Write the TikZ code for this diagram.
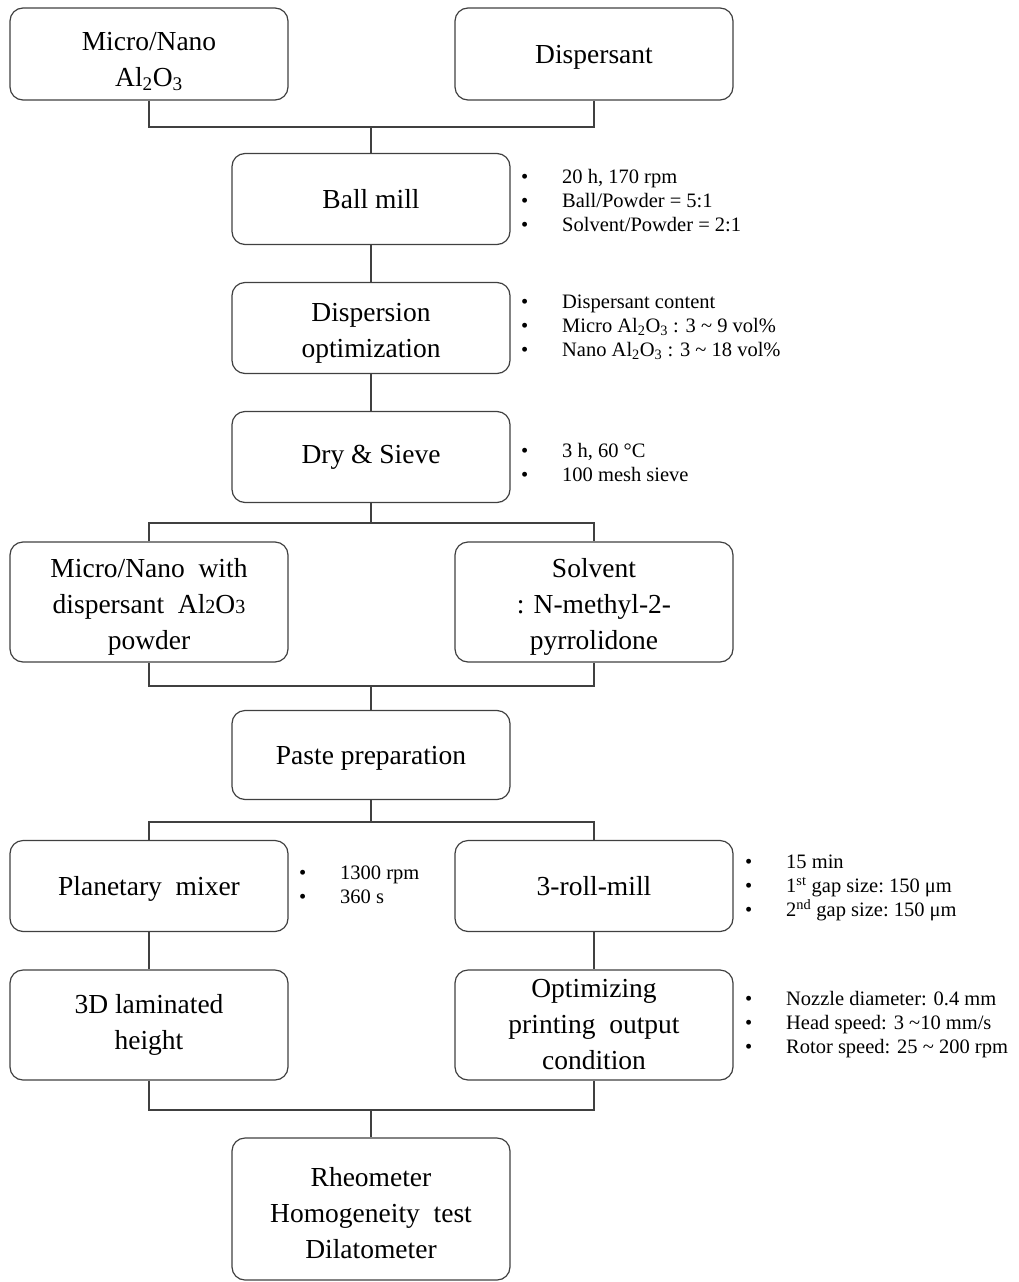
\documentclass[tikz,border=0pt]{standalone}
\usepackage{fontspec}
\setmainfont{Liberation Serif}
\usetikzlibrary{calc}

\newcommand{\bl}{\makebox[41pt][l]{\textbullet}}
\newcommand{\subdig}[1]{{\fontsize{20}{20}\selectfont #1}}
\newcommand{\tallrow}[1][29pt]{\rule{0pt}{#1}}

\begin{document}
\begin{tikzpicture}[x=1pt,y=-1pt,
    stage/.style={draw=black!75,line width=1.2pt,rounded corners=13pt,
        minimum width=278pt,align=center,inner sep=0pt,
        font=\fontsize{27.5}{36}\selectfont},
    note/.style={anchor=west,align=left,inner sep=0pt,
        font=\fontsize{20.5}{24}\selectfont},
    link/.style={draw=black!75,line width=1.4pt}]
    \useasboundingbox (0,0) rectangle (1018,1282);
    % boxes
    \node[stage,minimum height=92pt] (micro) at (149,54) {\tallrow[33pt]Micro/Nano\\Al\textsubscript{2}O\textsubscript{3}};
    \node[stage,minimum height=92pt] (disp) at (594,54) {\tallrow[25pt]Dispersant};
    \node[stage,minimum height=91pt] (ball) at (371,199) {Ball mill};
    \node[stage,minimum height=91pt] (dopt) at (371,328) {\tallrow Dispersion\\optimization};
    \node[stage,minimum height=91pt] (dry) at (371,457) {Dry \& Sieve};
    \node[stage,minimum height=120pt] (mnwd) at (149,602) {\tallrow Micro/Nano\ \ with\\dispersant\ \ Al\subdig{2}O\subdig{3}\\powder};
    \node[stage,minimum height=120pt] (solv) at (594,602) {\tallrow Solvent\\: N-methyl-2-\\pyrrolidone};
    \node[stage,minimum height=89pt] (paste) at (371,755) {\tallrow[24pt]Paste preparation};
    \node[stage,minimum height=91pt] (plan) at (149,886) {\tallrow[24pt]Planetary\ \ mixer};
    \node[stage,minimum height=91pt] (roll) at (594,886) {3-roll-mill};
    \node[stage,minimum height=110pt] (lam) at (149,1025) {3D laminated\\height};
    \node[stage,minimum height=110pt] (opt) at (594,1025) {Optimizing\\printing\ \ output\\condition};
    \node[stage,minimum height=142pt] (test) at (371,1209) {\tallrow[27pt]Rheometer\\Homogeneity\ \ test\\Dilatometer};
    % notes
    \node[note] (nball) at (521,201) {\bl 20 h, 170 rpm\\\bl Ball/Powder = 5:1\\\bl Solvent/Powder = 2:1};
    \node[note] (ndopt) at (521,327) {\bl Dispersant content\\\bl Micro Al\textsubscript{2}O\textsubscript{3} : 3 \textasciitilde\ 9 vol\%\\\bl Nano Al\textsubscript{2}O\textsubscript{3} : 3 \textasciitilde\ 18 vol\%};
    \node[note] (ndry) at (521,462) {\bl 3 h, 60 °C\\\bl 100 mesh sieve};
    \node[note] (nplan) at (299,885) {\bl 1300 rpm\\\bl 360 s};
    \node[note] (nroll) at (745,888) {\bl 15 min\\\bl 1\textsuperscript{st} gap size:\ 150 μm\\\bl 2\textsuperscript{nd} gap size:\ 150 μm};
    \node[note] (nopt) at (745,1025) {\bl Nozzle diameter: 0.4 mm\\\bl Head speed: 3 \textasciitilde10 mm/s\\\bl Rotor speed: 25 \textasciitilde\ 200 rpm};
    % junctions
    \coordinate (j1) at (371,127);
    \coordinate (j2) at (371,523);
    \coordinate (j3) at (371,686);
    \coordinate (j4) at (371,822);
    \coordinate (j5) at (371,1110);
    % connectors
    \draw[link] (micro.south) |- (j1) -| (disp.south);
    \draw[link] (j1) -- (ball.north);
    \draw[link] (ball.south) -- (dopt.north);
    \draw[link] (dopt.south) -- (dry.north);
    \draw[link] (dry.south) -- (j2);
    \draw[link] (mnwd.north) |- (j2) -| (solv.north);
    \draw[link] (mnwd.south) |- (j3) -| (solv.south);
    \draw[link] (j3) -- (paste.north);
    \draw[link] (paste.south) -- (j4);
    \draw[link] (plan.north) |- (j4) -| (roll.north);
    \draw[link] (plan.south) -- (lam.north);
    \draw[link] (roll.south) -- (opt.north);
    \draw[link] (lam.south) |- (j5) -| (opt.south);
    \draw[link] (j5) -- (test.north);
\end{tikzpicture}
\end{document}
